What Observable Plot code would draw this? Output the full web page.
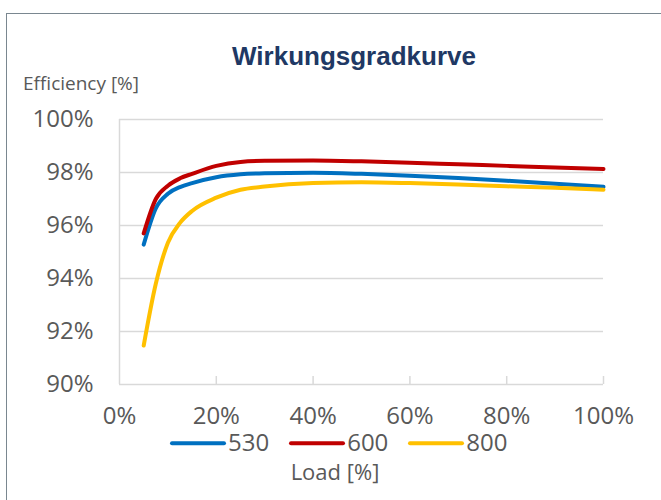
<!DOCTYPE html>
<html>
<head>
<meta charset="utf-8">
<script src="https://cdn.jsdelivr.net/npm/d3@7"></script>
<script src="https://cdn.jsdelivr.net/npm/@observablehq/plot@0.6"></script>
<style>
  html, body { margin: 0; padding: 0; background: #fff; }
  #wrap { position: relative; width: 661px; height: 500px; overflow: hidden; font-family: "Open Sans", sans-serif; color: #595959; }
  #frame { position: absolute; left: 6px; top: 13px; width: 700px; height: 600px; border: 1px solid #7a8790; box-sizing: border-box; }
  #chart { position: absolute; left: 0; top: 0; }
  .title { position: absolute; left: 0; width: 708px; top: 43px; line-height: 1; text-align: center; font-family: "Liberation Sans", Arial, sans-serif; font-weight: bold; font-size: 26px; color: #203864; white-space: nowrap; }
  .ylab { position: absolute; left: 23px; top: 74px; line-height: 1; font-size: 19px; white-space: nowrap; }
  .xlab { position: absolute; left: 0; width: 670px; top: 459.5px; line-height: 1; text-align: center; font-size: 22px; white-space: nowrap; }
  .legend { position: absolute; left: 167px; top: 429.5px; display: flex; align-items: flex-start; font-size: 24px; line-height: 1; white-space: nowrap; }
  .legend .item { display: flex; align-items: flex-start; margin-right: 17px; }
  .legend .item span { display: inline-block; height: 24px; line-height: 24px; overflow: visible; }
  .legend svg { margin-right: 1px; }
</style>
</head>
<body>
<div id="wrap">
  <div id="frame"></div>
  <div id="chart"></div>
  <div class="title">Wirkungsgradkurve</div>
  <div class="ylab">Efficiency [%]</div>
  <div class="legend" id="legend"></div>
  <div class="xlab">Load [%]</div>
</div>
<script>
// Load points [%]
const load = [5, 7.5, 10, 12.5, 15, 20, 25, 30, 40, 50, 60, 70, 80, 90, 100];
// Efficiency [%] per series
const eff530 = [95.28, 96.65, 97.2, 97.45, 97.6, 97.82, 97.93, 97.97, 97.99, 97.95, 97.88, 97.79, 97.69, 97.58, 97.46];
const eff600 = [95.7, 97.0, 97.5, 97.78, 97.95, 98.25, 98.4, 98.44, 98.45, 98.42, 98.37, 98.31, 98.25, 98.19, 98.13];
const eff800 = [91.47, 93.8, 95.35, 96.1, 96.55, 97.05, 97.35, 97.47, 97.6, 97.63, 97.6, 97.55, 97.48, 97.42, 97.35];
const seriesNames = ["530", "600", "800"];
const seriesColors = ["#0070C0", "#C00000", "#FFC000"];
const yTicks = [90, 92, 94, 96, 98, 100];
const xTicks = [0, 20, 40, 60, 80, 100];

const seriesValues = [eff530, eff600, eff800];
const data = [];
seriesNames.forEach((name, i) => {
  load.forEach((x, j) => data.push({series: name, load: x, eff: seriesValues[i][j]}));
});

const chart = Plot.plot({
  width: 661,
  height: 500,
  marginTop: 119,
  marginBottom: 116,
  marginLeft: 119,
  marginRight: 58,
  style: {fontFamily: "Open Sans, sans-serif", fontSize: "24px", color: "#595959", background: "transparent"},
  x: {domain: [0, 100]},
  y: {domain: [90, 100]},
  color: {domain: seriesNames, range: seriesColors},
  marks: [
    Plot.gridY(yTicks, {stroke: "#d9d9d9", strokeOpacity: 1, strokeWidth: 1.5}),
    Plot.ruleX([0], {stroke: "#d9d9d9", strokeWidth: 1.5}),
    Plot.ruleX(xTicks.slice(1), {x: d => d, stroke: "#d9d9d9", strokeWidth: 1.5, insetTop: 257}),
    Plot.axisY(yTicks, {tickSize: 0, tickPadding: 26, tickFormat: d => d + "%", fill: "#595959", fontSize: 24, label: null}),
    Plot.axisX(xTicks, {tickSize: 0, tickPadding: 22.5, tickFormat: d => d + "%", fill: "#595959", fontSize: 24, label: null}),
    Plot.line(data, {x: "load", y: "eff", z: "series", stroke: "series", strokeWidth: 4, curve: "monotone-x", strokeLinecap: "round", strokeLinejoin: "round"})
  ]
});
document.getElementById("chart").appendChild(chart);

const legend = document.getElementById("legend");
seriesNames.forEach((name, i) => {
  const item = document.createElement("div");
  item.className = "item";
  item.innerHTML = `<svg width="60" height="24"><line x1="5" y1="13.2" x2="57" y2="13.2" stroke="${seriesColors[i]}" stroke-width="4" stroke-linecap="round"/></svg><span>${name}</span>`;
  legend.appendChild(item);
});
</script>
</body>
</html>
